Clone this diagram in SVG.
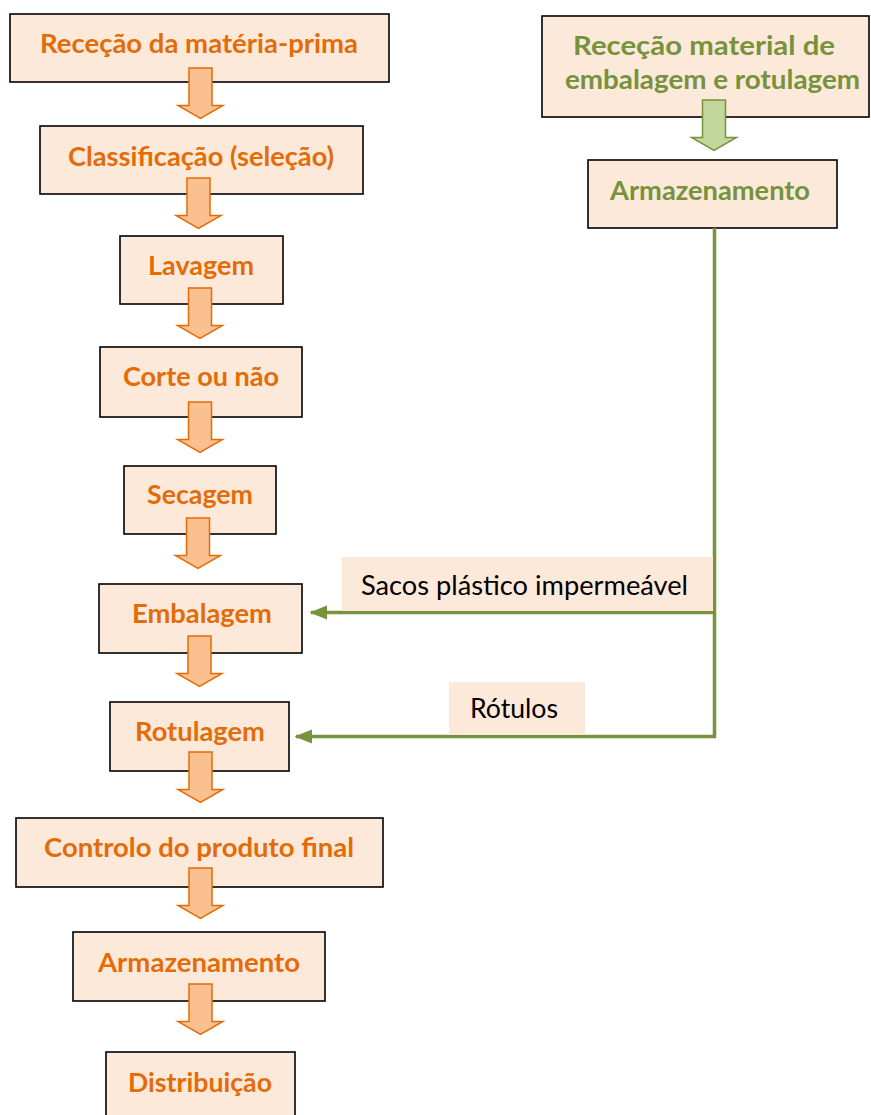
<svg xmlns="http://www.w3.org/2000/svg" xmlns:xlink="http://www.w3.org/1999/xlink" width="871" height="1115" viewBox="0 0 871 1115">
<style>
.box{fill:#FDE9D9;stroke:#000;stroke-width:1.6}
.ot{font-family:Lato,"Liberation Sans",sans-serif;font-weight:bold;font-size:27px;fill:#E36C09;text-anchor:middle}
.gt{font-family:Lato,"Liberation Sans",sans-serif;font-weight:bold;font-size:27px;fill:#76923C;text-anchor:middle}
.lt{font-family:Lato,"Liberation Sans",sans-serif;font-size:27px;fill:#000;text-anchor:middle}
.lbg{fill:#FDE9D9}
.oarr{fill:#FAC090;stroke:#E36C09;stroke-width:1.5}
.garr{fill:#C3D69B;stroke:#76923C;stroke-width:1.5}
.gline{fill:none;stroke:#77933C;stroke-width:3.5}
</style>
<defs>
<path id="blk" d="M-11.5,0 H11.5 V37.5 H22.5 L0,50.5 L-22.5,37.5 H-11.5 Z"/>
<marker id="gh" markerWidth="5" markerHeight="5" refX="4.6" refY="2.5" orient="auto" markerUnits="strokeWidth" viewBox="0 0 5 5">
<path d="M0,0.5 L5,2.5 L0,4.5 Z" fill="#77933C"/>
</marker>
</defs>

<g id="n1"><rect class="box" x="10" y="14" width="379" height="68"/><text class="ot" x="199" y="53" textLength="318" lengthAdjust="spacingAndGlyphs">Receção da matéria-prima</text></g>
<g id="n2"><rect class="box" x="40" y="126" width="323" height="68"/><text class="ot" x="201" y="166" textLength="266" lengthAdjust="spacingAndGlyphs">Classificação (seleção)</text></g>
<g id="n3"><rect class="box" x="120" y="236" width="163" height="68"/><text class="ot" x="201" y="275" textLength="106" lengthAdjust="spacingAndGlyphs">Lavagem</text></g>
<g id="n4"><rect class="box" x="100" y="347" width="202" height="70"/><text class="ot" x="201" y="386" textLength="156" lengthAdjust="spacingAndGlyphs">Corte ou não</text></g>
<g id="n5"><rect class="box" x="124" y="466" width="152" height="68"/><text class="ot" x="200" y="504" textLength="106" lengthAdjust="spacingAndGlyphs">Secagem</text></g>
<g id="n6"><rect class="box" x="99" y="584" width="203" height="69"/><text class="ot" x="202" y="623" textLength="140" lengthAdjust="spacingAndGlyphs">Embalagem</text></g>
<g id="n7"><rect class="box" x="110" y="702" width="179" height="69"/><text class="ot" x="200" y="741" textLength="130" lengthAdjust="spacingAndGlyphs">Rotulagem</text></g>
<g id="n8"><rect class="box" x="16" y="818" width="367" height="69"/><text class="ot" x="199" y="857" textLength="310" lengthAdjust="spacingAndGlyphs">Controlo do produto final</text></g>
<g id="n9"><rect class="box" x="73" y="932" width="252" height="69"/><text class="ot" x="199" y="972" textLength="202" lengthAdjust="spacingAndGlyphs">Armazenamento</text></g>
<g id="n10"><rect class="box" x="106" y="1052" width="189" height="70"/><text class="ot" x="200" y="1092" textLength="144" lengthAdjust="spacingAndGlyphs">Distribuição</text></g>

<g id="r1"><rect class="box" x="542" y="16" width="327" height="101"/><text class="gt" x="704" y="55" textLength="262" lengthAdjust="spacingAndGlyphs">Receção material de</text><text class="gt" x="712.5" y="89" textLength="295" lengthAdjust="spacingAndGlyphs">embalagem e rotulagem</text></g>
<g id="r2"><rect class="box" x="588" y="160" width="249" height="68"/><text class="gt" x="710" y="200" textLength="200" lengthAdjust="spacingAndGlyphs">Armazenamento</text></g>

<g id="connectors">
<use href="#blk" class="oarr" x="200.5" y="68"/>
<use href="#blk" class="oarr" x="198.5" y="178"/>
<use href="#blk" class="oarr" x="200" y="288"/>
<use href="#blk" class="oarr" x="200" y="402"/>
<use href="#blk" class="oarr" x="198" y="518"/>
<use href="#blk" class="oarr" x="199.5" y="636"/>
<use href="#blk" class="oarr" x="200.5" y="752"/>
<use href="#blk" class="oarr" x="200.5" y="868"/>
<use href="#blk" class="oarr" x="200.5" y="984"/>
<use href="#blk" class="garr" x="714" y="100"/>
<polyline class="gline" points="714.5,228 714.5,736.5 296,736.5" marker-end="url(#gh)"/>
<polyline class="gline" points="714.5,612.5 311,612.5" marker-end="url(#gh)"/>
</g>

<g id="labels">
<rect class="lbg" x="342" y="557" width="371" height="54"/>
<text class="lt" x="524.5" y="595" textLength="327" lengthAdjust="spacingAndGlyphs">Sacos plástico impermeável</text>
<rect class="lbg" x="449" y="682" width="136" height="53"/>
<text class="lt" x="514" y="718" textLength="88" lengthAdjust="spacingAndGlyphs">Rótulos</text>
</g>
</svg>
